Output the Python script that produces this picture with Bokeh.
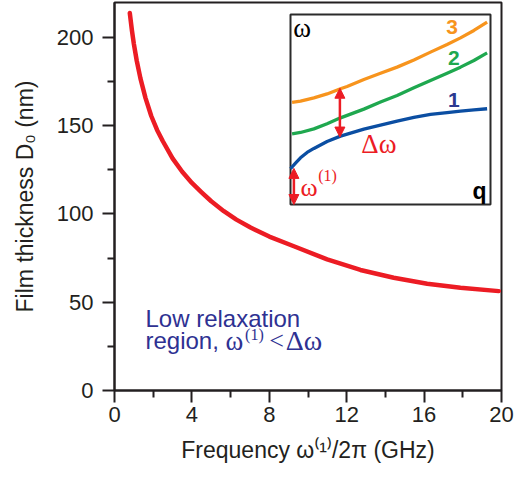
from bokeh.plotting import figure
from bokeh.models import Range1d, Label, Arrow, NormalHead, FixedTicker
from bokeh.embed import file_html
from bokeh.resources import INLINE

# Boundary of the low-relaxation region: film thickness vs. lowest-mode frequency
freq_ghz = [0.79, 0.9, 1.0, 1.15, 1.34, 1.6, 1.9, 2.2, 2.5, 3.0, 3.5, 4.0, 4.5,
            5.0, 5.65, 6.3, 7.03, 8.0, 9.27, 10.99, 12.71, 14.43, 16.16, 17.88,
            19.86]
thickness_nm = [213.8, 204.0, 196.4, 186.8, 176.8, 165.8, 155.5, 147.6, 141.2,
                131.5, 123.9, 117.6, 112.3, 107.2, 101.6, 96.8, 92.3, 87.2, 81.7,
                74.3, 68.3, 63.9, 60.5, 58.2, 56.3]

x_ticks = [0, 4, 8, 12, 16, 20]
x_minor = [2, 6, 10, 14, 18]
y_ticks = [0, 50, 100, 150, 200]
y_minor = [25, 75, 125, 175]

# Inset: schematic spin-wave branches, normalized wavevector q and frequency omega
q_branch1 = [0.0, 0.025, 0.05, 0.083, 0.117, 0.183, 0.25, 0.367, 0.45, 0.533,
             0.617, 0.7, 0.783, 0.85, 0.917, 0.983]
w_branch1 = [0.188, 0.218, 0.246, 0.274, 0.295, 0.332, 0.36, 0.397, 0.418, 0.439,
             0.458, 0.474, 0.484, 0.491, 0.498, 0.504]
q_branch2 = [0.008, 0.05, 0.117, 0.183, 0.25, 0.367, 0.45, 0.533, 0.617, 0.7,
             0.783, 0.85, 0.917, 0.983]
w_branch2 = [0.372, 0.379, 0.398, 0.425, 0.456, 0.502, 0.539, 0.574, 0.614, 0.653,
             0.691, 0.723, 0.758, 0.798]
q_branch3 = [0.008, 0.05, 0.117, 0.183, 0.25, 0.283, 0.367, 0.45, 0.533, 0.617,
             0.7, 0.783, 0.85, 0.917, 0.983]
w_branch3 = [0.538, 0.544, 0.561, 0.582, 0.609, 0.621, 0.658, 0.691, 0.723, 0.761,
             0.802, 0.842, 0.877, 0.916, 0.96]

# Gap markers: delta-omega between branches 1 and 3, and omega(1) at q = 0
gap_q = 0.247
gap_lo, gap_hi = 0.355, 0.612
w1_q = 0.017
w1_lo, w1_hi = 0.0, 0.19

SANS = "Liberation Sans"
SERIF = "Liberation Serif"
INK = "#231f20"
RED = "#ec1c24"
NAVY = "#2e3192"
ORANGE = "#f7941d"
GREEN = "#1fa84f"
BLUE = "#0b4ea2"

W, H = 526, 477
BORDER_L, BORDER_R, BORDER_T, BORDER_B = 114, 25, 2, 87
X_RANGE = (0, 20)
Y_RANGE = (0, 219.8)

p = figure(width=W, height=H, output_backend="svg", toolbar_location=None,
           x_range=Range1d(*X_RANGE), y_range=Range1d(*Y_RANGE),
           min_border_left=BORDER_L, min_border_right=BORDER_R,
           min_border_top=BORDER_T, min_border_bottom=BORDER_B,
           background_fill_color="white", border_fill_color="white")

p.grid.visible = False
p.outline_line_color = INK
p.outline_line_width = 2

for ax, ticks, minor in ((p.xaxis, x_ticks, x_minor), (p.yaxis, y_ticks, y_minor)):
    ax.ticker = FixedTicker(ticks=ticks, minor_ticks=minor)
    ax.axis_line_color = INK
    ax.axis_line_width = 2
    ax.major_tick_line_color = INK
    ax.major_tick_line_width = 2
    ax.minor_tick_line_color = INK
    ax.minor_tick_line_width = 2
    ax.major_tick_in = 0
    ax.major_tick_out = 12
    ax.minor_tick_in = 0
    ax.minor_tick_out = 7
    ax.major_label_text_font = SANS
    ax.major_label_text_font_size = "22px"
    ax.major_label_text_color = INK
    ax.axis_label_text_font = SANS
    ax.axis_label_text_font_size = "23px"
    ax.axis_label_text_font_style = "normal"
    ax.axis_label_text_color = INK

p.xaxis.major_label_standoff = 4
p.yaxis.major_label_standoff = 9
p.xaxis.axis_label_standoff = 12
p.yaxis.axis_label_standoff = 16
p.xaxis.axis_label = "Frequency \u03c9\u207d\u00b9\u207e/2\u03c0 (GHz)"
p.yaxis.axis_label = "Film thickness D\u2080 (nm)"

# Main curve
p.line(freq_ghz, thickness_nm, line_color=RED, line_width=4.5, line_cap="round",
       line_join="round")

# Region annotation
p.add_layout(Label(x=1.6, y=40.6, text="Low relaxation", text_font=SANS,
                   text_font_size="24px", text_color=NAVY, text_baseline="alphabetic"))
p.add_layout(Label(x=1.6, y=28.3, text="region,", text_font=SANS,
                   text_font_size="24px", text_color=NAVY, text_baseline="alphabetic"))
p.add_layout(Label(x=5.74, y=28.3, text="\u03c9", text_font=SERIF,
                   text_font_size="27px", text_color=NAVY, text_baseline="alphabetic"))
p.add_layout(Label(x=6.75, y=31.8, text="(1)", text_font=SERIF,
                   text_font_size="16px", text_color=NAVY, text_baseline="alphabetic"))
p.add_layout(Label(x=8.0, y=28.3, text="<", text_font=SERIF,
                   text_font_size="26px", text_color=NAVY, text_baseline="alphabetic"))
p.add_layout(Label(x=8.85, y=28.3, text="\u0394\u03c9", text_font=SERIF,
                   text_font_size="28px", text_color=NAVY, text_baseline="alphabetic"))

# Inset placed in screen pixels, mapped onto its own normalized ranges
FRAME_L, FRAME_R = BORDER_L, W - BORDER_R
FRAME_T, FRAME_B = BORDER_T, H - BORDER_B
IN_L, IN_R, IN_T, IN_B = 290, 490, 14, 204

fx0 = (IN_L - FRAME_L) / (FRAME_R - FRAME_L)
fx1 = (IN_R - FRAME_L) / (FRAME_R - FRAME_L)
fy0 = (FRAME_B - IN_B) / (FRAME_B - FRAME_T)
fy1 = (FRAME_B - IN_T) / (FRAME_B - FRAME_T)
span_x = 1.0 / (fx1 - fx0)
span_y = 1.0 / (fy1 - fy0)
p.extra_x_ranges = {"inset": Range1d(-fx0 * span_x, -fx0 * span_x + span_x)}
p.extra_y_ranges = {"inset": Range1d(-fy0 * span_y, -fy0 * span_y + span_y)}
ins = dict(x_range_name="inset", y_range_name="inset")

p.quad(left=0, right=1, bottom=0, top=1, fill_color="white",
       line_color="#2b2b2b", line_width=2, **ins)

p.line(q_branch3, w_branch3, line_color=ORANGE, line_width=3.3, line_join="round", **ins)
p.line(q_branch2, w_branch2, line_color=GREEN, line_width=3.3, line_join="round", **ins)
p.line(q_branch1, w_branch1, line_color=BLUE, line_width=3.3, line_join="round", **ins)

for xq, lo, hi in ((gap_q, gap_lo, gap_hi), (w1_q, w1_lo, w1_hi)):
    p.add_layout(Arrow(x_start=xq, y_start=lo, x_end=xq, y_end=hi,
                       line_color=RED, line_width=2.5,
                       start=NormalHead(size=10, fill_color=RED, line_color=RED),
                       end=NormalHead(size=10, fill_color=RED, line_color=RED),
                       **ins))

def inset_label(x, y, text, font, size, color, style="normal"):
    p.add_layout(Label(x=x, y=y, text=text, text_font=font, text_font_size=size,
                       text_color=color, text_font_style=style,
                       text_align="center", text_baseline="middle", **ins))

inset_label(0.058, 0.93, "\u03c9", SERIF, "27px", "black")
inset_label(0.808, 0.935, "3", SANS, "21px", ORANGE, "bold")
inset_label(0.817, 0.77, "2", SANS, "21px", GREEN, "bold")
inset_label(0.817, 0.55, "1", SANS, "21px", "#2b3990", "bold")
inset_label(0.442, 0.32, "\u0394\u03c9", SERIF, "27px", RED)
inset_label(0.093, 0.09, "\u03c9", SERIF, "26px", RED)
inset_label(0.185, 0.155, "(1)", SERIF, "16px", RED)
inset_label(0.945, 0.07, "q", SANS, "23px", "black", "bold")

open("out.html", "w").write(file_html(p, INLINE))
